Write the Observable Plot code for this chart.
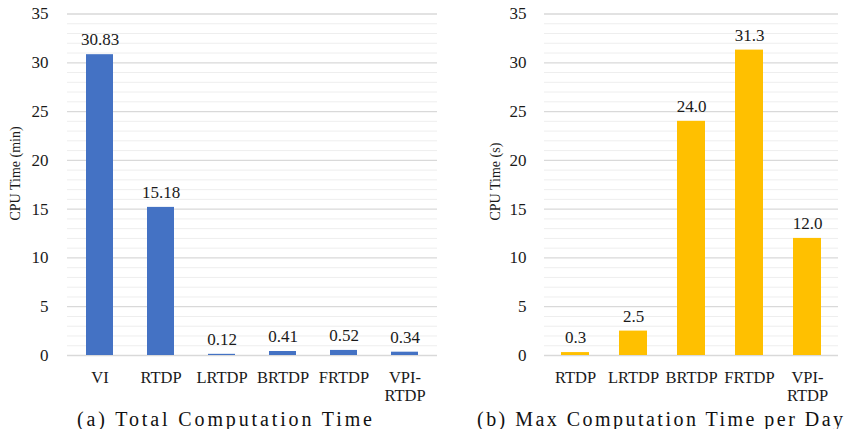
<!DOCTYPE html>
<html><head><meta charset="utf-8">
<script src="https://cdn.jsdelivr.net/npm/d3@7"></script>
<script src="https://cdn.jsdelivr.net/npm/@observablehq/plot@0.6"></script>
<style>
body{margin:0;background:#fff;}
#wrap{display:flex;width:845px;}
.panel svg{display:block;}
.panel svg text{font-family:"Liberation Serif",serif !important;}
.cap{font-family:"Liberation Serif",serif;font-size:20px;line-height:20px;color:#111;white-space:nowrap;text-align:center;margin-top:4px;}
.cap span{display:inline-block;}
</style></head>
<body><div id="wrap"><div class="panel" id="a"></div><div class="panel" id="b"></div></div>
<script>
const leftCategories = ["VI","RTDP","LRTDP","BRTDP","FRTDP","VPI-\nRTDP"];
const leftValues = [30.83, 15.18, 0.12, 0.41, 0.52, 0.34];
const rightCategories = ["RTDP","LRTDP","BRTDP","FRTDP","VPI-\nRTDP"];
const rightValues = [0.3, 2.5, 24.0, 31.3, 12.0];
const yTicks = [0,5,10,15,20,25,30,35];
const leftTitle = "CPU Time (min)";
const rightTitle = "CPU Time (s)";
const leftCaption = "(a) Total Computation Time";
const rightCaption = "(b) Max Computation Time per Day";

function chart(cats, vals, digits, color, title, opts){
  const data = cats.map((c,i)=>({c, v: vals[i], label: vals[i].toFixed(digits)}));
  return Plot.plot({
    width: opts.width, height: 405,
    marginLeft: opts.ml, marginRight: opts.mr, marginTop: 13.5, marginBottom: 50,
    style: {fontFamily: "'Liberation Serif', serif", fontSize: "17px", color: "#1a1a1a", background: "#fff"},
    x: {domain: cats, paddingInner: opts.pi, paddingOuter: opts.pi/2},
    y: {domain: [0,35]},
    marks: [
      Plot.gridY(d3.range(1,36).filter(d=>d%5), {stroke: "#eeeeee", strokeOpacity: 1}),
      Plot.gridY(yTicks, {stroke: "#d9d9d9", strokeOpacity: 1, strokeWidth: 1.3}),
      Plot.axisX({tickSize: 0, tickPadding: 14, label: null, fontSize: 16.5, lineHeight: 1.12}),
      Plot.axisY({ticks: yTicks, tickSize: 0, tickPadding: opts.tp, label: null, fontSize: 17}),
      Plot.barY(data, {x: "c", y: "v", fill: color}),
      Plot.text(data, {x: "c", y: "v", text: "label", lineAnchor: "bottom", dy: -9.5, fontSize: 17, fill: "#1a1a1a"}),
      Plot.text([title], {frameAnchor: "bottom-left", dx: opts.tdx, dy: -135, rotate: -90, textAnchor: "start", fontSize: 14, fill: "#1a1a1a"})
    ]
  });
}
const a = chart(leftCategories, leftValues, 2, "#4472C4", leftTitle, {width: 440, ml: 67, mr: 3, pi: 0.55, tdx: -48, tp: 19});
const b = chart(rightCategories, rightValues, 1, "#FFC000", rightTitle, {width: 405, ml: 104, mr: 7, pi: 0.52, tdx: -45, tp: 18});
document.getElementById("a").append(a);
document.getElementById("b").append(b);
function cap(el, text, panelW, center, target){
  const d=document.createElement("div");d.className="cap";d.style.width=panelW+"px";
  d.style.transform=`translateX(${center-panelW/2}px)`;
  const s=document.createElement("span");s.textContent=text;d.append(s);el.append(d);
  const w=s.getBoundingClientRect().width;
  const ls=(target-w)/(text.length-1);
  s.style.letterSpacing=ls+"px";
  s.style.marginRight=(-ls)+"px";
}
cap(document.getElementById("a"), leftCaption, 440, 224.5, 295);
cap(document.getElementById("b"), rightCaption, 405, 220, 366);
</script></body></html>
